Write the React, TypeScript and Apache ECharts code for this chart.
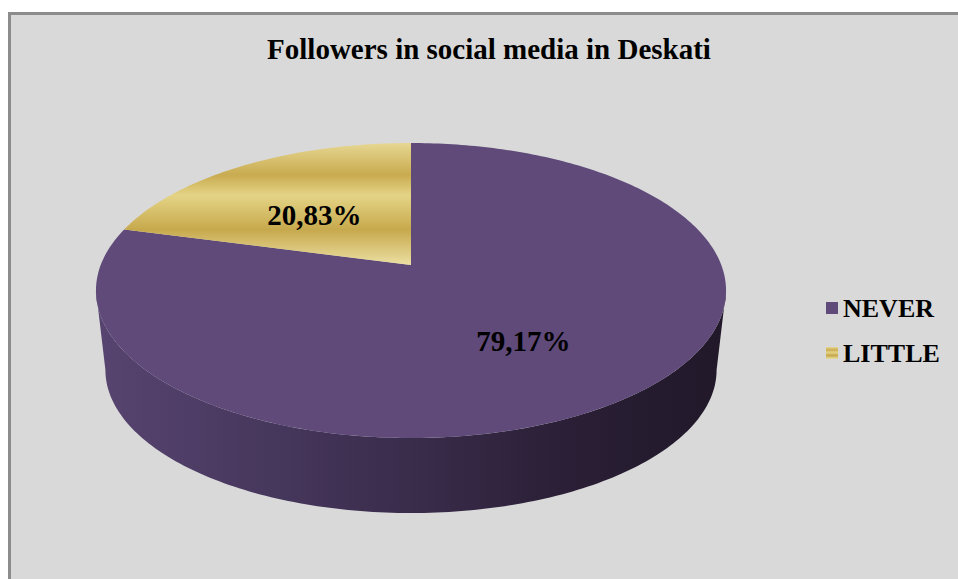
import React, { useEffect, useRef } from 'react';
import * as echarts from 'echarts';

// ---- data ----
const categories: string[] = ['NEVER', 'LITTLE'];
const values: number[] = [79.17, 20.83];
const labelTexts: string[] = ['79,17%', '20,83%'];
const chartTitle = 'Followers in social media in Deskati';

// ---- layout (3D pie projection) ----
const CX = 411;
const CY = 265;
const A = 310.3;
const B = 143.1;
const E = 0.1729;
const S = 0.97;
const D = 80.2;
const WALL_FROM = 100;
const WALL_TO = 260;
const LABEL_R = 0.55;
const LABEL_DY = 8;

const FONT = '"Liberation Serif", "Times New Roman", serif';

const purpleTop = '#5f4a7a';
const yellowStops = [
  { offset: 0, color: '#e6d792' },
  { offset: 0.26, color: '#c9ab50' },
  { offset: 0.43, color: '#e4d486' },
  { offset: 0.71, color: '#c7a94d' },
  { offset: 1, color: '#ebdfa2' },
];

function proj(aDeg: number, r: number, bottom: boolean): number[] {
  const t = ((90 - aDeg) * Math.PI) / 180;
  const u = r * Math.cos(t);
  const v = r * Math.sin(t);
  const k = 1 / (1 + E * v);
  const s = bottom ? S : 1;
  return [CX + s * A * u * k, CY + (bottom ? D : 0) - s * B * v * k];
}

function arc(a0: number, a1: number, r: number, bottom: boolean): number[][] {
  const pts: number[][] = [];
  const n = Math.max(2, Math.ceil(Math.abs(a1 - a0)));
  for (let i = 0; i <= n; i++) {
    pts.push(proj(a0 + ((a1 - a0) * i) / n, r, bottom));
  }
  return pts;
}

function topFill(i: number): any {
  if (i === 1) {
    return new echarts.graphic.LinearGradient(0, 143, 0, 265, yellowStops, true);
  }
  return purpleTop;
}

function wallFill(): any {
  return new echarts.graphic.LinearGradient(
    96,
    0,
    726,
    0,
    [
      { offset: 0, color: '#574470' },
      { offset: 0.3, color: '#45365b' },
      { offset: 0.5, color: '#3a2c4b' },
      { offset: 0.75, color: '#2a1f36' },
      { offset: 1, color: '#211829' },
    ],
    true
  );
}

function makeRenderItem(idx: number) {
  return (params: any, api: any) => {
    const total = values.reduce((s, v) => s + v, 0);
    const before = values.slice(0, idx).reduce((s, v) => s + v, 0);
    const a0 = (before / total) * 360;
    const a1 = a0 + (api.value(0) / total) * 360;
    const children: any[] = [];

    // side wall (front visible part)
    const ws = Math.max(a0, WALL_FROM);
    const we = Math.min(a1, WALL_TO);
    if (ws < we) {
      const topArc = arc(ws, we, 1, false);
      const botArc = arc(ws, we, 1, true).reverse();
      children.push({
        type: 'polygon',
        z2: 1,
        shape: { points: topArc.concat(botArc) },
        style: { fill: wallFill() },
      });
    }

    // top face
    const pts = [proj(0, 0, false)].concat(arc(a0, a1, 1, false));
    children.push({
      type: 'polygon',
      z2: 10,
      shape: { points: pts },
      style: { fill: topFill(idx) },
    });

    // label
    const mid = (a0 + a1) / 2;
    const lp = proj(mid, LABEL_R, false);
    children.push({
      type: 'text',
      z2: 20,
      x: lp[0],
      y: lp[1] + LABEL_DY,
      style: {
        text: labelTexts[idx],
        font: `bold 29px ${FONT}`,
        fill: '#000',
        align: 'center',
        verticalAlign: 'middle',
      },
    });

    return { type: 'group', children };
  };
}

export default function App() {
  const ref = useRef<HTMLDivElement>(null);

  useEffect(() => {
    if (!ref.current) return;
    const chart = echarts.init(ref.current, undefined, { renderer: 'svg' });
    const option: any = {
      animation: false,
      backgroundColor: '#ffffff',
      title: {
        text: chartTitle,
        left: 489,
        top: 34,
        padding: 0,
        textAlign: 'center',
        textStyle: {
          fontFamily: FONT,
          fontWeight: 'bold',
          fontSize: 29,
          color: '#000',
        },
      },
      legend: {
        orient: 'vertical',
        left: 826,
        top: 295,
        padding: 0,
        itemWidth: 12,
        itemHeight: 12,
        itemGap: 19,
        icon: 'rect',
        textStyle: {
          fontFamily: FONT,
          fontWeight: 'bold',
          fontSize: 26,
          lineHeight: 26,
          color: '#000',
        },
        data: [
          { name: categories[0], icon: 'rect', itemStyle: { color: purpleTop } },
          {
            name: categories[1],
            icon: 'rect',
            itemStyle: {
              color: new echarts.graphic.LinearGradient(0, 0, 0, 1, yellowStops),
            },
          },
        ],
      },
      graphic: [
        {
          type: 'rect',
          z: -10,
          shape: { x: 9.5, y: 13.5, width: 1000, height: 1000 },
          style: { fill: '#d9d9d9', stroke: '#8c8c8c', lineWidth: 3 },
        },
      ],
      series: categories.map((name, i) => ({
        type: 'custom',
        name,
        coordinateSystem: 'none',
        itemStyle: { color: i === 0 ? purpleTop : '#d4bd66' },
        renderItem: makeRenderItem(i),
        data: [[values[i]]],
      })),
    };
    chart.setOption(option);
    return () => chart.dispose();
  }, []);

  return (
    <div
      ref={ref}
      style={{ position: 'fixed', left: 0, top: 0, width: 958, height: 579 }}
    />
  );
}
